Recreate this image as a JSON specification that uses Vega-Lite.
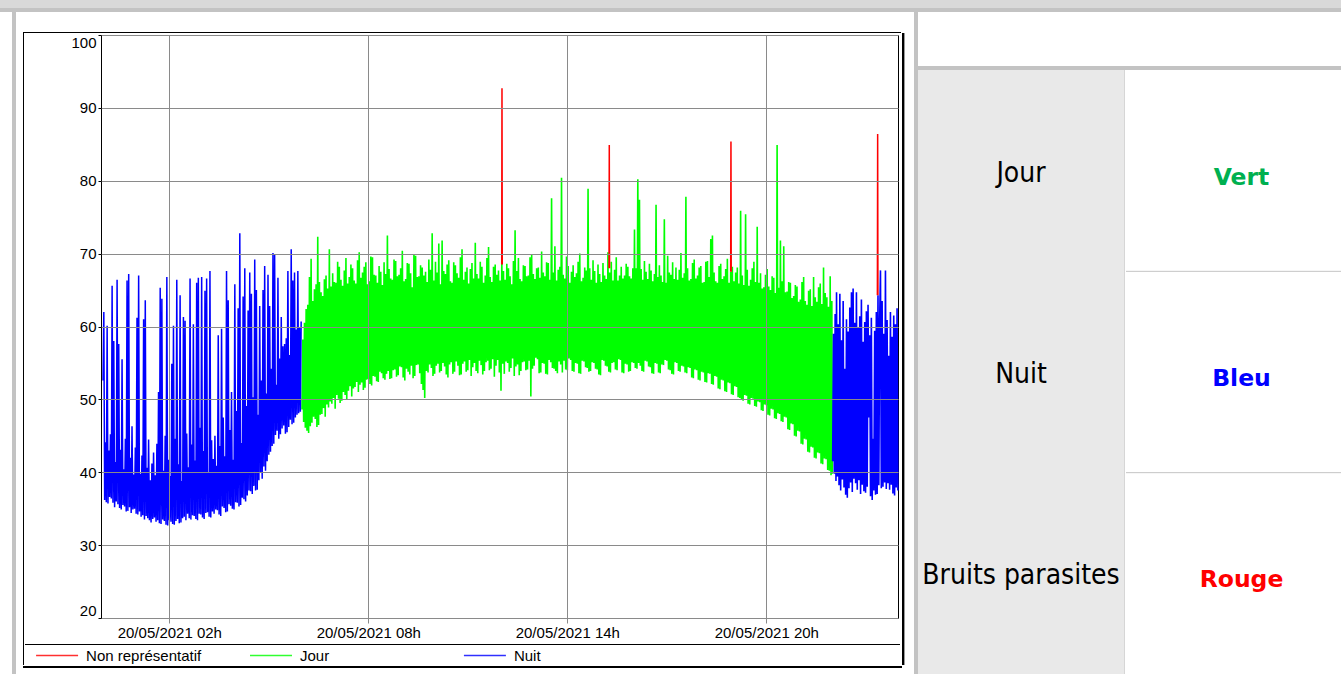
{
  "$schema": "https://vega.github.io/schema/vega-lite/v6.json",
  "padding": 0,
  "background": "#ffffff",
  "spacing": 0,
  "config": {"view": {"stroke": null}, "font": "Liberation Sans", "concat": {"spacing": 0}},
  "vconcat": [
    {"width": 1341, "height": 8, "data": {"values": [{}]}, "mark": {"type": "rect", "color": "#d9d9d9"}},
    {"width": 1341, "height": 4, "data": {"values": [{}]}, "mark": {"type": "rect", "color": "#c3c3c3"}},
    {
      "spacing": 0,
      "hconcat": [
        {"width": 12, "height": 662, "data": {"values": [{}]}, "mark": {"type": "rect", "color": "#ffffff"}},
        {"width": 4, "height": 662, "data": {"values": [{}]}, "mark": {"type": "rect", "color": "#c3c3c3"}},
        {
          "spacing": 0,
          "vconcat": [
            {"width": 895, "height": 20, "data": {"values": [{}]}, "mark": {"type": "rect", "color": "#ffffff"}},
            {
              "spacing": 0,
              "hconcat": [
                {"width": 7, "height": 1, "data": {"values": [{}]}, "mark": {"type": "rect", "color": "#ffffff"}},
                {
                  "spacing": 0,
                  "vconcat": [
                    {"width": 878, "height": 1, "data": {"values": [{}]}, "mark": {"type": "rect", "color": "#000000"}},
                    {
                      "spacing": 0,
                      "hconcat": [
                        {"width": 1, "height": 632, "data": {"values": [{}]}, "mark": {"type": "rect", "color": "#000000"}},
                        {
                          "spacing": 0,
                          "vconcat": [
                            {"width": 875, "height": 1, "data": {"values": [{}]}, "mark": {"type": "rect", "color": "#ffffff"}},
                            {
                              "spacing": 0,
                              "bounds": "flush",
                              "hconcat": [
                                {"width": 76, "height": 583, "data": {"values": [{}]}, "mark": {"type": "rect", "color": "#ffffff"}},
                                {
                                  "width": 797,
                                  "height": 583,
                                  "view": {"stroke": "#000000", "strokeWidth": 1},
                                  "encoding": {
                                    "x": {
                                      "field": "m", "type": "quantitative",
                                      "scale": {"domain": [-3.6, 1438.2], "nice": false, "zero": false},
                                      "axis": {
                                        "values": [120, 480, 840, 1200],
                                        "labelExpr": "'20/05/2021 ' + (datum.value < 600 ? '0' : '') + (datum.value / 60) + 'h'",
                                        "title": null, "grid": true, "gridColor": "#8a8a8a", "gridWidth": 1,
                                        "domain": false, "tickColor": "#8a8a8a", "tickSize": 5, "labelPadding": 2,
                                        "labelFontSize": 15, "labelColor": "#000000", "labelFont": "Liberation Sans",
                                        "minExtent": 25, "maxExtent": 25, "zindex": 1, "labelFlush": false
                                      }
                                    },
                                    "y": {
                                      "field": "v", "type": "quantitative",
                                      "scale": {"domain": [20, 100], "nice": false, "zero": false},
                                      "axis": {
                                        "values": [20, 30, 40, 50, 60, 70, 80, 90, 100],
                                        "title": null, "grid": true, "gridColor": "#8a8a8a", "gridWidth": 1,
                                        "domain": false, "tickColor": "#000000", "tickSize": 3, "labelPadding": 2,
                                        "labelFontSize": 15, "labelColor": "#000000", "labelFont": "Liberation Sans",
                                        "labelFlush": true, "minExtent": 76, "maxExtent": 76, "zindex": 1
                                      }
                                    }
                                  },
                                  "layer": [
                                    {
                                      "data": {"values": "m,v\n360,48.6\n361.5,58.2\n363,46.9\n364.5,60.5\n366,46.1\n367.5,62.4\n369,45.7\n370.5,63.0\n372,45.4\n373.5,66.8\n375,46.3\n376.5,69.3\n378,46.8\n379.5,63.5\n381,47.6\n382.5,65.1\n384,47.3\n385.5,65.8\n387,46.2\n388.5,72.3\n390,46.5\n391.5,66.1\n393,47.9\n394.5,64.7\n396,48.0\n397.5,64.2\n399,48.8\n400.5,66.5\n402,47.6\n403.5,67.0\n405,49.3\n406.5,65.2\n408,48.9\n409.5,70.6\n411,49.7\n412.5,65.5\n414,49.4\n415.5,67.3\n417,50.2\n418.5,66.1\n420,48.7\n421.5,66.0\n423,50.6\n424.5,68.9\n426,50.1\n427.5,68.2\n429,49.5\n430.5,66.4\n432,49.8\n433.5,65.6\n435,51.0\n436.5,67.7\n438,50.6\n439.5,69.4\n441,50.0\n442.5,65.9\n444,51.2\n445.5,66.8\n447,51.8\n448.5,68.5\n450,50.4\n451.5,68.0\n453,51.5\n454.5,66.3\n456,51.7\n457.5,65.9\n459,52.4\n460.5,69.1\n462,51.0\n463.5,70.2\n465,52.0\n466.5,66.7\n468,52.3\n469.5,67.4\n471,51.3\n472.5,68.2\n474,51.6\n475.5,68.8\n477,52.7\n478.5,65.8\n480,52.8\n481.5,66.2\n483,52.1\n484.5,69.6\n486,51.9\n487.5,69.5\n489,53.2\n490.5,67.1\n492,53.1\n493.5,67.0\n495,52.5\n496.5,66.0\n498,52.4\n499.5,68.3\n501,53.8\n502.5,67.5\n504,53.6\n505.5,65.7\n507,52.9\n508.5,68.8\n510,52.7\n511.5,67.2\n513,53.5\n514.5,72.5\n516,53.9\n517.5,67.9\n519,52.8\n520.5,66.6\n522,52.9\n523.5,66.4\n525,54.0\n526.5,69.2\n528,54.1\n529.5,69.0\n531,53.1\n532.5,66.9\n534,53.3\n535.5,67.1\n537,54.5\n538.5,68.0\n540,54.4\n541.5,70.4\n543,53.0\n544.5,66.2\n546,52.6\n547.5,66.5\n549,54.2\n550.5,68.7\n552,53.8\n553.5,68.6\n555,53.4\n556.5,67.3\n558,54.6\n559.5,65.4\n561,52.9\n562.5,69.9\n564,53.2\n565.5,69.7\n567,54.7\n568.5,66.8\n570,54.8\n571.5,66.9\n573,53.6\n574.5,68.4\n576,52.1\n577.5,68.1\n579,51.3\n580.5,67.0\n582,50.2\n583.5,67.5\n585,53.9\n586.5,66.1\n588,53.7\n589.5,69.2\n591,54.8\n592.5,67.8\n594,54.3\n595.5,72.8\n597,53.2\n598.5,66.3\n600,53.5\n601.5,68.9\n603,54.6\n604.5,67.4\n606,54.9\n607.5,71.4\n609,53.7\n610.5,65.8\n612,53.9\n613.5,71.8\n615,55.0\n616.5,67.6\n618,54.5\n619.5,67.2\n621,53.4\n622.5,68.5\n624,53.0\n625.5,69.1\n627,54.8\n628.5,66.2\n630,55.1\n631.5,66.0\n633,53.5\n634.5,68.8\n636,53.8\n637.5,68.4\n639,55.2\n640.5,67.3\n642,54.6\n643.5,66.7\n645,53.3\n646.5,69.5\n648,53.4\n649.5,70.6\n651,54.9\n652.5,66.4\n654,55.2\n655.5,67.5\n657,53.8\n658.5,68.1\n660,54.0\n661.5,65.9\n663,55.4\n664.5,67.9\n666,53.2\n667.5,68.7\n669,54.4\n670.5,66.6\n672,55.0\n673.5,71.5\n675,53.9\n676.5,67.2\n678,53.6\n679.5,66.6\n681,55.3\n682.5,68.9\n684,54.7\n685.5,68.2\n687,53.4\n688.5,66.0\n690,53.9\n691.5,67.0\n693,55.1\n694.5,69.4\n696,55.3\n697.5,70.9\n699,54.0\n700.5,66.8\n702,54.2\n703.5,66.1\n705,55.5\n706.5,68.2\n708,53.1\n709.5,68.5\n711,54.6\n712.5,67.1\n714,55.4\n715.5,67.7\n717,53.7\n718.5,66.3\n720,51.2\n721.5,69.3\n723,54.9\n724.5,67.6\n726,53.5\n727.5,66.4\n729,55.2\n730.5,68.6\n732,55.0\n733.5,68.0\n735,53.8\n736.5,66.9\n738,54.3\n739.5,65.8\n741,55.6\n742.5,69.0\n744,53.2\n745.5,73.2\n747,54.5\n748.5,67.6\n750,54.8\n751.5,69.4\n753,53.3\n754.5,66.5\n756,53.9\n757.5,66.2\n759,55.1\n760.5,68.4\n762,55.2\n763.5,68.3\n765,54.0\n766.5,66.9\n768,54.1\n769.5,67.0\n771,55.3\n772.5,69.5\n774,50.4\n775.5,69.8\n777,54.2\n778.5,67.2\n780,54.6\n781.5,66.5\n783,55.7\n784.5,68.0\n786,55.5\n787.5,68.1\n789,53.6\n790.5,66.7\n792,53.7\n793.5,70.3\n795,55.0\n796.5,67.4\n798,54.9\n799.5,66.9\n801,53.5\n802.5,68.8\n804,53.4\n805.5,68.7\n807,55.4\n808.5,66.4\n810,55.1\n811.5,77.6\n813,54.3\n814.5,67.4\n816,54.2\n817.5,71.0\n819,53.9\n820.5,66.3\n822,53.6\n823.5,67.8\n825,55.2\n826.5,68.2\n828,54.8\n829.5,80.4\n831,53.7\n832.5,67.1\n834,55.3\n835.5,66.6\n837,54.1\n838.5,69.6\n840,54.0\n841.5,68.3\n843,55.6\n844.5,66.0\n846,55.4\n847.5,67.5\n849,53.9\n850.5,68.4\n852,53.8\n853.5,66.8\n855,55.0\n856.5,67.3\n858,54.9\n859.5,68.9\n861,53.6\n862.5,70.0\n864,53.5\n865.5,66.2\n867,55.3\n868.5,66.7\n870,55.2\n871.5,68.1\n873,54.4\n874.5,67.7\n876,54.3\n877.5,78.9\n879,53.8\n880.5,68.0\n882,53.9\n883.5,66.4\n885,55.1\n886.5,69.1\n888,55.0\n889.5,67.6\n891,54.2\n892.5,66.0\n894,54.1\n895.5,68.5\n897,53.4\n898.5,67.2\n900,53.3\n901.5,66.1\n903,55.4\n904.5,68.7\n906,55.3\n907.5,67.0\n909,54.6\n910.5,66.5\n912,54.5\n913.5,70.2\n915,53.8\n916.5,67.4\n918,53.7\n919.5,68.9\n921,55.0\n922.5,66.3\n924,55.1\n925.5,67.8\n927,54.1\n928.5,69.5\n930,54.0\n931.5,66.3\n933,55.5\n934.5,67.0\n936,55.4\n937.5,68.2\n939,53.7\n940.5,66.6\n942,53.6\n943.5,67.0\n945,54.9\n946.5,68.6\n948,54.8\n949.5,68.2\n951,53.8\n952.5,66.9\n954,53.9\n955.5,66.6\n957,55.1\n958.5,68.0\n960,55.0\n961.5,73.3\n963,54.3\n964.5,68.0\n966,54.2\n967.5,80.2\n969,55.0\n970.5,77.4\n972,54.6\n973.5,67.9\n975,53.9\n976.5,66.4\n978,53.8\n979.5,69.0\n981,55.3\n982.5,67.5\n984,55.2\n985.5,66.5\n987,54.5\n988.5,68.6\n990,54.4\n991.5,67.7\n993,53.6\n994.5,66.2\n996,53.5\n997.5,67.2\n999,55.0\n1000.5,76.7\n1002,54.9\n1003.5,66.8\n1005,53.7\n1006.5,68.4\n1008,53.6\n1009.5,67.0\n1011,54.8\n1012.5,66.1\n1014,54.7\n1015.5,74.7\n1017,55.4\n1018.5,66.0\n1020,55.3\n1021.5,69.7\n1023,54.1\n1024.5,67.4\n1026,54.0\n1027.5,67.1\n1029,53.5\n1030.5,68.8\n1032,53.4\n1033.5,66.5\n1035,55.1\n1036.5,68.1\n1038,55.0\n1039.5,66.4\n1041,53.9\n1042.5,67.8\n1044,53.8\n1045.5,70.1\n1047,54.6\n1048.5,66.7\n1050,54.5\n1051.5,67.3\n1053,53.7\n1054.5,77.8\n1056,53.6\n1057.5,68.0\n1059,54.4\n1060.5,66.3\n1062,54.3\n1063.5,66.5\n1065,53.0\n1066.5,68.7\n1068,52.9\n1069.5,69.2\n1071,54.1\n1072.5,66.6\n1074,54.0\n1075.5,67.0\n1077,52.7\n1078.5,68.1\n1080,52.6\n1081.5,68.3\n1083,53.8\n1084.5,66.0\n1086,53.7\n1087.5,66.1\n1089,52.4\n1090.5,68.9\n1092,52.3\n1093.5,69.0\n1095,53.6\n1096.5,66.8\n1098,53.5\n1099.5,72.0\n1101,52.1\n1102.5,72.5\n1104,52.0\n1105.5,67.4\n1107,53.2\n1108.5,66.2\n1110,53.1\n1111.5,66.0\n1113,51.5\n1114.5,68.3\n1116,51.4\n1117.5,68.6\n1119,52.7\n1120.5,66.5\n1122,52.6\n1123.5,66.9\n1125,51.1\n1126.5,67.9\n1128,51.0\n1129.5,69.3\n1131,52.3\n1132.5,66.0\n1134,52.2\n1135.5,67.5\n1137,50.7\n1138.5,68.2\n1140,50.6\n1141.5,66.2\n1143,51.8\n1144.5,67.4\n1146,51.7\n1147.5,68.1\n1149,50.3\n1150.5,65.9\n1152,50.2\n1153.5,75.9\n1155,49.9\n1156.5,67.0\n1158,49.8\n1159.5,65.7\n1161,50.6\n1162.5,75.4\n1164,50.5\n1165.5,67.8\n1167,49.4\n1168.5,65.6\n1170,49.3\n1171.5,66.4\n1173,50.2\n1174.5,68.0\n1176,50.1\n1177.5,68.9\n1179,49.1\n1180.5,66.1\n1182,49.0\n1183.5,73.7\n1185,49.7\n1186.5,66.0\n1188,49.6\n1189.5,67.3\n1191,48.5\n1192.5,65.2\n1194,48.4\n1195.5,65.4\n1197,49.3\n1198.5,67.1\n1200,49.2\n1201.5,67.9\n1203,47.9\n1204.5,65.5\n1206,47.8\n1207.5,65.0\n1209,48.7\n1210.5,66.9\n1212,48.6\n1213.5,66.7\n1215,47.4\n1216.5,64.6\n1218,47.3\n1219.5,84.9\n1221,48.1\n1222.5,65.3\n1224,48.0\n1225.5,71.8\n1227,47.0\n1228.5,66.2\n1230,46.9\n1231.5,71.0\n1233,47.6\n1234.5,64.7\n1236,47.5\n1237.5,64.8\n1239,45.9\n1240.5,66.1\n1242,45.8\n1243.5,66.0\n1245,46.7\n1246.5,63.9\n1248,46.6\n1249.5,64.2\n1251,45.0\n1252.5,65.7\n1254,44.9\n1255.5,65.5\n1257,45.7\n1258.5,63.4\n1260,45.6\n1261.5,63.7\n1263,43.9\n1264.5,66.1\n1266,43.8\n1267.5,66.8\n1269,44.6\n1270.5,63.5\n1272,44.5\n1273.5,63.0\n1275,42.8\n1276.5,64.9\n1278,42.7\n1279.5,65.1\n1281,43.5\n1282.5,62.8\n1284,43.4\n1285.5,66.8\n1287,42.0\n1288.5,64.0\n1290,41.9\n1291.5,63.4\n1293,42.7\n1294.5,65.4\n1296,42.6\n1297.5,65.9\n1299,41.2\n1300.5,63.1\n1302,41.1\n1303.5,68.1\n1305,41.9\n1306.5,64.6\n1308,41.8\n1309.5,64.0\n1311,40.3\n1312.5,62.7\n1314,40.2\n1315.5,66.9\n1317,39.6\n1318.5,63.5\n1319.5,39.8", "format": {"type": "csv", "parse": {"m": "number", "v": "number"}}},
                                      "mark": {"type": "line", "color": "#00ff00", "strokeWidth": 1.6}
                                    },
                                    {
                                      "data": {"values": "m,v\n0,52.6\n1.5,62.0\n3,36.2\n4.5,44.1\n6,35.9\n7.5,60.1\n9,35.7\n10.5,43.0\n12,36.6\n13.5,45.2\n15,36.4\n16.5,65.6\n18,35.8\n19.5,58.0\n21,35.2\n22.5,41.4\n24,36.0\n25.5,66.4\n27,35.6\n28.5,57.6\n30,35.1\n31.5,43.1\n33,34.9\n34.5,55.5\n36,35.5\n37.5,40.4\n39,35.3\n40.5,44.6\n42,34.6\n43.5,66.3\n45,34.7\n46.5,67.2\n48,35.2\n49.5,42.0\n51,34.4\n52.5,46.3\n54,34.9\n55.5,39.7\n57,35.0\n58.5,43.4\n60,34.3\n61.5,61.2\n63,34.2\n64.5,67.0\n66,34.6\n67.5,39.8\n69,33.9\n70.5,42.3\n72,34.1\n73.5,61.0\n75,33.5\n76.5,63.6\n78,34.0\n79.5,40.6\n81,33.7\n82.5,44.5\n84,33.4\n85.5,38.9\n87,33.1\n88.5,41.2\n90,33.6\n91.5,42.7\n93,33.8\n94.5,39.6\n96,33.2\n97.5,43.9\n99,33.4\n100.5,51.0\n102,33.0\n103.5,65.3\n105,32.9\n106.5,63.8\n108,33.5\n109.5,40.2\n111,33.3\n112.5,45.0\n114,32.8\n115.5,66.8\n117,32.7\n118.5,41.7\n120,33.4\n121.5,39.5\n123,33.2\n124.5,54.9\n126,32.9\n127.5,60.1\n129,32.8\n130.5,44.6\n132,33.3\n133.5,66.4\n135,33.6\n136.5,41.1\n138,33.0\n139.5,64.3\n141,33.1\n142.5,38.8\n144,33.7\n145.5,61.3\n147,33.9\n148.5,60.8\n150,33.4\n151.5,45.3\n153,34.3\n154.5,40.7\n156,33.7\n157.5,66.6\n159,33.5\n160.5,43.8\n162,34.1\n163.5,60.3\n165,34.0\n166.5,41.6\n168,33.6\n169.5,66.0\n171,33.4\n172.5,66.7\n174,34.3\n175.5,46.1\n177,34.2\n178.5,66.8\n180,33.8\n181.5,42.9\n183,33.6\n184.5,64.9\n186,34.4\n187.5,66.6\n189,34.5\n190.5,40.0\n192,33.9\n193.5,67.6\n195,33.8\n196.5,44.4\n198,34.6\n199.5,41.8\n201,34.3\n202.5,45.0\n204,34.9\n205.5,40.9\n207,34.8\n208.5,58.8\n210,34.2\n211.5,43.6\n213,34.0\n214.5,59.7\n216,35.3\n217.5,47.5\n219,35.1\n220.5,42.2\n222,34.5\n223.5,67.6\n225,34.6\n226.5,63.6\n228,35.6\n229.5,45.8\n231,35.4\n232.5,51.0\n234,35.0\n235.5,41.7\n237,34.9\n238.5,65.8\n240,35.9\n241.5,48.4\n243,35.8\n244.5,62.5\n246,35.3\n247.5,72.8\n249,35.5\n250.5,44.0\n252,36.5\n253.5,64.1\n255,36.3\n256.5,68.0\n258,36.0\n259.5,49.1\n261,36.8\n262.5,62.2\n264,37.5\n265.5,67.4\n267,37.4\n268.5,64.5\n270,37.0\n271.5,50.3\n273,38.1\n274.5,69.2\n276,37.5\n277.5,65.0\n279,37.6\n280.5,47.9\n282,38.9\n283.5,62.8\n285,39.9\n286.5,52.6\n288,39.1\n289.5,65.0\n291,40.8\n292.5,68.3\n294,40.2\n295.5,50.8\n297,41.5\n298.5,67.1\n300,42.4\n301.5,62.8\n303,42.8\n304.5,54.2\n306,43.6\n307.5,70.1\n309,43.9\n310.5,69.8\n312,45.1\n313.5,52.0\n315,45.7\n316.5,66.7\n318,44.6\n319.5,55.6\n321,45.2\n322.5,61.3\n324,46.0\n325.5,57.3\n327,46.4\n328.5,57.6\n330,45.3\n331.5,58.4\n333,45.5\n334.5,67.6\n336,46.2\n337.5,56.1\n339,47.2\n340.5,70.6\n342,46.6\n343.5,66.3\n345,46.8\n346.5,67.4\n348,47.5\n349.5,59.6\n351,47.9\n352.5,67.6\n354,48.1\n355.5,59.9\n357,48.3\n358.5,60.7", "format": {"type": "csv", "parse": {"m": "number", "v": "number"}}},
                                      "mark": {"type": "line", "color": "#0000ff", "strokeWidth": 1.5}
                                    },
                                    {
                                      "data": {"values": "m,v\n1320,41.5\n1321.5,59.0\n1323,39.8\n1324.5,61.7\n1326,38.8\n1327,64.7\n1328.5,39.4\n1330,60.3\n1331.5,38.2\n1333,64.5\n1334.5,37.5\n1336,58.1\n1337.5,39.0\n1339,63.5\n1340.5,37.9\n1342,54.2\n1343.5,36.9\n1345,61.0\n1346.5,36.5\n1348,59.3\n1349.5,37.8\n1351,62.6\n1352.5,38.6\n1354,64.7\n1355.5,37.3\n1357,65.2\n1358.5,39.1\n1360,60.5\n1361.5,38.5\n1363,64.7\n1364.5,37.6\n1366,59.8\n1367.5,38.9\n1369,61.4\n1370.5,37.0\n1372,63.7\n1373.5,38.3\n1375,57.9\n1376.5,37.4\n1378,60.6\n1379.5,37.2\n1381,62.1\n1382.5,38.0\n1384,63.0\n1385.5,47.5\n1387,58.8\n1388.5,36.7\n1390,61.2\n1391.5,36.2\n1393,44.6\n1394.5,37.5\n1396,59.4\n1397.5,36.9\n1399,62.0\n1400.5,37.0\n1402,64.3\n1403.5,38.2\n1405,60.7\n1406.5,67.7\n1408,37.8\n1409.5,63.5\n1411,38.0\n1412.5,59.0\n1414,38.6\n1415.5,67.7\n1417,37.7\n1418.5,60.9\n1420,38.5\n1421.5,56.0\n1423,37.6\n1424.5,62.0\n1426,38.3\n1427.5,58.6\n1429,37.1\n1430.5,61.5\n1432,36.8\n1433.5,60.3\n1435,37.9\n1436.5,62.5\n1438,37.5", "format": {"type": "csv", "parse": {"m": "number", "v": "number"}}},
                                      "mark": {"type": "line", "color": "#0000ff", "strokeWidth": 1.6}
                                    },
                                    {
                                      "data": {"values": "s,m,v\n1,721.3,68.5\n1,721.8,92.7\n1,722.3,68.5\n2,915.4,68\n2,915.9,84.9\n2,916.4,68\n3,1135.5,67.5\n3,1136,85.4\n3,1136.5,67.5\n4,1400.9,64.3\n4,1401.4,86.4\n4,1401.9,64.3", "format": {"type": "csv", "parse": {"m": "number", "v": "number"}}},
                                      "mark": {"type": "line", "color": "#ff0000", "strokeWidth": 1.5},
                                      "encoding": {"detail": {"field": "s", "type": "nominal"}}
                                    }
                                  ]
                                }
                              ]
                            },
                            {"width": 875, "height": 1, "data": {"values": [{}]}, "mark": {"type": "rect", "color": "#000000"}},
                            {
                              "width": 492,
                              "height": 21,
                              "data": {"values": [{"serie": "Non représentatif"}, {"serie": "Jour"}, {"serie": "Nuit"}]},
                              "encoding": {"x": {"field": "serie", "type": "nominal", "sort": null, "scale": {"type": "point", "padding": 0.15}, "axis": null}},
                              "layer": [
                                {
                                  "mark": {"type": "point", "shape": "stroke", "size": 1764, "strokeWidth": 1.5, "filled": false, "opacity": 1},
                                  "encoding": {"stroke": {"field": "serie", "type": "nominal", "scale": {"domain": ["Non représentatif", "Jour", "Nuit"], "range": ["#ff3030", "#30ff30", "#3030ff"]}, "legend": null}}
                                },
                                {
                                  "mark": {"type": "text", "align": "left", "baseline": "middle", "dx": 29, "fontSize": 15, "font": "Liberation Sans", "color": "#000000"},
                                  "encoding": {"text": {"field": "serie"}}
                                }
                              ]
                            }
                          ]
                        },
                        {"width": 2, "height": 632, "data": {"values": [{}]}, "mark": {"type": "rect", "color": "#000000"}},
                        {"width": 1, "height": 632, "data": {"values": [{}]}, "mark": {"type": "rect", "color": "#9a9a9a"}}
                      ]
                    },
                    {"width": 879, "height": 2, "data": {"values": [{}]}, "mark": {"type": "rect", "color": "#000000"}}
                  ]
                },
                {"width": 9, "height": 1, "data": {"values": [{}]}, "mark": {"type": "rect", "color": "#ffffff"}}
              ]
            }
          ]
        },
        {"width": 4, "height": 662, "data": {"values": [{}]}, "mark": {"type": "rect", "color": "#c3c3c3"}},
        {
          "spacing": 0,
          "vconcat": [
            {"width": 426, "height": 54, "data": {"values": [{}]}, "mark": {"type": "rect", "color": "#ffffff"}},
            {"width": 426, "height": 4, "data": {"values": [{}]}, "mark": {"type": "rect", "color": "#c3c3c3"}},
            {
              "spacing": 0,
              "hconcat": [
                {
                  "width": 206,
                  "height": 604,
                  "view": {"fill": "#e9e9e9", "stroke": null},
                  "data": {"values": [{"cat": "Jour", "coul": "Vert"}, {"cat": "Nuit", "coul": "Bleu"}, {"cat": "Bruits parasites", "coul": "Rouge"}]},
                  "mark": {"type": "text", "font": "DejaVu Sans Condensed", "fontSize": 28, "color": "#000000", "baseline": "middle", "dy": 3},
                  "encoding": {
                    "y": {"field": "cat", "type": "nominal", "scale": {"type": "band", "domain": ["Jour", "Nuit", "Bruits parasites"], "paddingInner": 0, "paddingOuter": 0}, "axis": null},
                    "text": {"field": "cat"}
                  }
                },
                {"width": 1, "height": 604, "data": {"values": [{}]}, "mark": {"type": "rect", "color": "#d6d6d6"}},
                {
                  "width": 219,
                  "height": 604,
                  "data": {"values": [{"cat": "Jour", "coul": "Vert"}, {"cat": "Nuit", "coul": "Bleu"}, {"cat": "Bruits parasites", "coul": "Rouge"}]},
                  "encoding": {
                    "y": {"field": "cat", "type": "nominal", "scale": {"type": "band", "domain": ["Jour", "Nuit", "Bruits parasites"], "paddingInner": 0, "paddingOuter": 0}, "axis": null}
                  },
                  "layer": [
                    {
                      "transform": [{"filter": "datum.cat !== 'Jour'"}],
                      "mark": {"type": "rule", "color": "#c4c4c4", "strokeWidth": 1},
                      "encoding": {"y": {"field": "cat", "type": "nominal", "bandPosition": 0, "scale": {"type": "band", "domain": ["Jour", "Nuit", "Bruits parasites"], "paddingInner": 0, "paddingOuter": 0}, "axis": null}}
                    },
                    {
                      "mark": {"type": "text", "font": "DejaVu Sans", "fontWeight": "bold", "fontSize": 23.5, "baseline": "middle", "dx": 6, "dy": 7},
                      "encoding": {
                        "text": {"field": "coul"},
                        "color": {"field": "coul", "type": "nominal", "scale": {"domain": ["Vert", "Bleu", "Rouge"], "range": ["#00b050", "#0000ff", "#ff0000"]}, "legend": null}
                      }
                    }
                  ]
                }
              ]
            }
          ]
        }
      ]
    }
  ]
}
